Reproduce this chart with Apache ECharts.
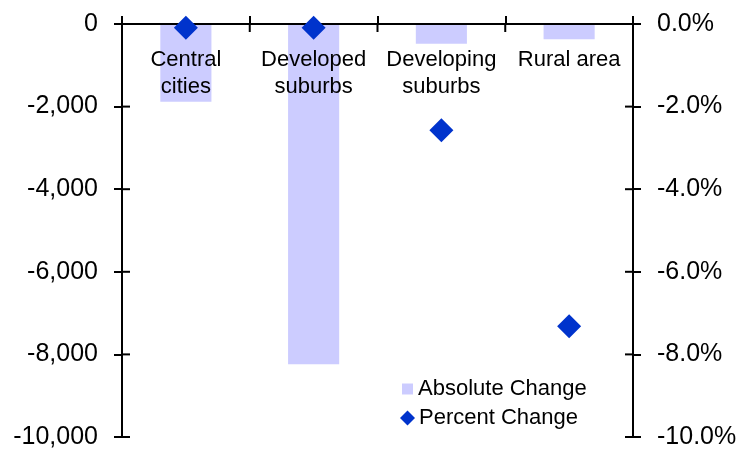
<!DOCTYPE html>
<html>
<head>
<meta charset="utf-8">
<script src="https://cdn.jsdelivr.net/npm/echarts@6/dist/echarts.min.js"></script>
<style>
  html, body { margin: 0; padding: 0; background: #fff; }
  #chart { width: 740px; height: 452px; }
</style>
</head>
<body>
<div id="chart"></div>
<script>
// data
var categories = ['Central\ncities', 'Developed\nsuburbs', 'Developing\nsuburbs', 'Rural area']
var absoluteChange = [-1880, -8240, -480, -370]
var percentChange = [-0.09, -0.09, -2.57, -7.32]
var leftTicks = { min: -10000, max: 0, step: 2000 }
var rightTicks = { min: -10, max: 0, step: 2 }

var font = 'Liberation Sans, Arial, sans-serif'
var axisColor = '#000'
var tickLen = 8
var gridBox = { left: 122, right: 107, top: 24, bottom: 15 }

var axisLine = { show: true, onZero: false, lineStyle: { color: axisColor, width: 2 } }
var axisTick = { show: true, length: tickLen, lineStyle: { color: axisColor, width: 2 } }

var chart = echarts.init(document.getElementById('chart'))
chart.setOption({
  animation: false,
  textStyle: { fontFamily: font },
  grid: Object.assign({ containLabel: false }, gridBox),
  legend: [
    {
      data: [{ name: 'Absolute Change', icon: 'rect' }],
      left: 402, top: 378, padding: 0, itemWidth: 11, itemHeight: 11, itemGap: 0,
      textStyle: { fontSize: 22, color: '#000', fontFamily: font }
    },
    {
      data: [{ name: 'Percent Change', icon: 'diamond' }],
      left: 400, top: 407, padding: 0, itemWidth: 15, itemHeight: 15, itemGap: 0,
      textStyle: { fontSize: 22, color: '#000', fontFamily: font, padding: [0, 0, 0, -1] }
    }
  ],
  xAxis: {
    type: 'category',
    position: 'top',
    data: categories,
    z: 10,
    axisLine: axisLine,
    axisTick: axisTick,
    splitLine: { show: false },
    axisLabel: {
      inside: true, margin: 22, fontSize: 22, lineHeight: 27,
      color: '#000', fontFamily: font, interval: 0
    }
  },
  yAxis: [
    {
      type: 'value', position: 'left',
      min: leftTicks.min, max: leftTicks.max, interval: leftTicks.step,
      axisLine: axisLine, axisTick: axisTick, splitLine: { show: false },
      axisLabel: {
        margin: 24, fontSize: 25, color: '#000', fontFamily: font,
        formatter: function (v) { return v.toLocaleString('en-US') }
      }
    },
    {
      type: 'value', position: 'right',
      min: rightTicks.min, max: rightTicks.max, interval: rightTicks.step,
      axisLine: axisLine, axisTick: axisTick, splitLine: { show: false },
      axisLabel: {
        margin: 24, fontSize: 25, color: '#000', fontFamily: font,
        formatter: function (v) { return v.toFixed(1) + '%' }
      }
    }
  ],
  series: [
    {
      name: 'Absolute Change',
      type: 'bar',
      yAxisIndex: 0,
      data: absoluteChange,
      barWidth: '40%',
      itemStyle: { color: '#ccccff' },
      z: 1
    },
    {
      name: 'Percent Change',
      type: 'scatter',
      yAxisIndex: 1,
      data: percentChange,
      symbol: 'diamond',
      symbolSize: 24,
      clip: false,
      itemStyle: { color: '#0033cc', opacity: 1 },
      z: 20
    }
  ]
})

// inner half of the ticks (the reference ticks cross the axis line),
// placed through the chart's own scales
var lines = []
function tick (x1, y1, x2, y2) {
  lines.push({
    type: 'line', z: 15, silent: true,
    shape: { x1: x1, y1: y1, x2: x2, y2: y2 },
    style: { stroke: axisColor, lineWidth: 2 }
  })
}
var xLeft = gridBox.left
var xRight = chart.getWidth() - gridBox.right
var yTop = chart.convertToPixel({ yAxisIndex: 0 }, leftTicks.max)
for (var v = leftTicks.min; v <= leftTicks.max; v += leftTicks.step) {
  var y = chart.convertToPixel({ yAxisIndex: 0 }, v)
  tick(xLeft, y, xLeft + tickLen, y)
}
for (var r = rightTicks.min; r <= rightTicks.max; r += rightTicks.step) {
  var yr = chart.convertToPixel({ yAxisIndex: 1 }, r)
  tick(xRight, yr, xRight - tickLen, yr)
}
// category ticks sit on the band edges
var c0 = chart.convertToPixel({ xAxisIndex: 0 }, 0)
var c1 = chart.convertToPixel({ xAxisIndex: 0 }, 1)
var band = c1 - c0
for (var i = 0; i <= categories.length; i++) {
  var xb = c0 - band / 2 + i * band
  tick(xb, yTop, xb, yTop + tickLen)
}
chart.setOption({ graphic: lines })
</script>
</body>
</html>
